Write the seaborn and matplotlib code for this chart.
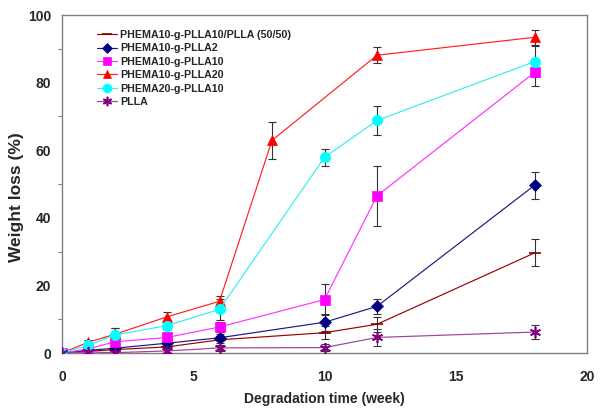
import numpy as np
import pandas as pd
import matplotlib
matplotlib.use("Agg")
import matplotlib.pyplot as plt
import seaborn as sns

weeks_a = [0, 1, 2, 4, 6, 10, 12, 18]
weeks_red = [0, 1, 2, 4, 6, 8, 12, 18]

series_names = ["PHEMA10-g-PLLA10/PLLA (50/50)", "PHEMA10-g-PLLA2", "PHEMA10-g-PLLA10",
                "PHEMA10-g-PLLA20", "PHEMA20-g-PLLA10", "PLLA"]

blend_5050 = [0, 0.5, 1.0, 1.8, 3.9, 6.0, 8.5, 29.6]
blend_5050_err = [0, 0.3, 0.5, 0.8, 1.0, 2.0, 2.2, 4.0]
plla2 = [0, 0.8, 1.4, 2.9, 4.5, 9.1, 13.8, 49.6]
plla2_err = [0, 0.4, 0.6, 0.8, 1.0, 2.5, 2.2, 4.0]
plla10 = [0, 1.2, 3.3, 4.6, 7.7, 15.8, 46.5, 83.0]
plla10_err = [0, 0.5, 1.0, 1.2, 1.5, 4.7, 8.9, 4.0]
plla20 = [0, 3.2, 5.5, 10.7, 15.3, 62.9, 88.1, 93.4]
plla20_err = [0, 0.6, 2.0, 1.5, 1.5, 5.4, 2.3, 2.3]
phema20 = [0, 2.3, 5.3, 8.1, 12.9, 57.9, 68.8, 86.2]
phema20_err = [0, 0.6, 2.0, 1.2, 3.0, 2.5, 4.4, 4.6]
plla = [0, 0.3, 0.1, 0.6, 1.5, 1.6, 4.6, 6.2]
plla_err = [0, 0.3, 0.4, 1.0, 1.0, 1.0, 2.5, 2.2]

values = [blend_5050, plla2, plla10, plla20, phema20, plla]
errors = [blend_5050_err, plla2_err, plla10_err, plla20_err, phema20_err, plla_err]
xs = [weeks_a, weeks_a, weeks_a, weeks_red, weeks_a, weeks_a]

colors = ["#800000", "#000080", "#FF00FF", "#FF0000", "#00FFFF", "#800080"]
line_colors = ["#990000", "#1a1a80", "#FF33FF", "#FF2020", "#33EEEE", "#A040A0"]
markers = ["_", "D", "s", "^", "o", (6, 2, 0)]
msizes = [8, 6, 7, 7.5, 7.5, 8]

rows = []
for name, x, v, e in zip(series_names, xs, values, errors):
    for xi, vi, ei in zip(x, v, e):
        rows.append({"week": xi, "loss": vi, "err": ei, "series": name})
df = pd.DataFrame(rows)

sns.set_style("white")
plt.rcParams["font.family"] = ["Liberation Sans", "DejaVu Sans"]

fig = plt.figure(figsize=(6.0, 4.11), dpi=100)
ax = fig.add_axes([62/600, 58/411, (587-62)/600, (353-15)/411])

for i, name in enumerate(series_names):
    sub = df[df["series"] == name]
    ax.errorbar(sub["week"], sub["loss"], yerr=sub["err"], fmt="none",
                ecolor="#333333", elinewidth=0.8, capsize=3, capthick=0.8, zorder=2)

for i, name in enumerate(series_names):
    sub = df[df["series"] == name]
    sns.lineplot(data=sub, x="week", y="loss", ax=ax, color=line_colors[i],
                 linewidth=0.85, marker=markers[i], markersize=msizes[i],
                 markerfacecolor=colors[i], markeredgecolor=colors[i],
                 markeredgewidth=1.2 if i in (0, 5) else 0.5,
                 label=name, zorder=3 + i, sort=False)

ax.set_xlim(0, 20)
ax.set_ylim(0, 100)
ax.set_xticks([0, 5, 10, 15, 20])
ax.set_yticks([0, 20, 40, 60, 80, 100])
ax.set_yticks(np.arange(0, 101, 10), minor=True)
ax.set_xlabel("Degradation time (week)", fontsize=10, fontweight="bold")
ax.set_ylabel("Weight loss (%)", fontsize=12.5, fontweight="bold")
ax.xaxis.set_label_coords(0.5, -0.115)
ax.yaxis.set_label_coords((24 - 62) / 525, 0.46)
for lab in ax.get_xticklabels() + ax.get_yticklabels():
    lab.set_fontweight("bold")
    lab.set_fontsize(10)
ax.tick_params(axis="both", which="major", direction="out", length=3, width=0.8,
               color="#808080", pad=5)
ax.tick_params(axis="x", which="major", pad=9)
ax.tick_params(axis="y", which="minor", direction="out", length=3, width=0.8,
               color="#808080", left=True)
for sp in ax.spines.values():
    sp.set_color("#808080")
    sp.set_linewidth(1.0)
ax.grid(False)

leg = ax.legend(loc="upper left", bbox_to_anchor=(0.055, 0.975), frameon=False,
                fontsize=7.7, handlelength=1.8, handletextpad=0.35, labelspacing=0.32,
                borderaxespad=0.2, markerscale=0.85)
for t in leg.get_texts():
    t.set_fontweight("bold")

fig.savefig("out.png", dpi=100)
